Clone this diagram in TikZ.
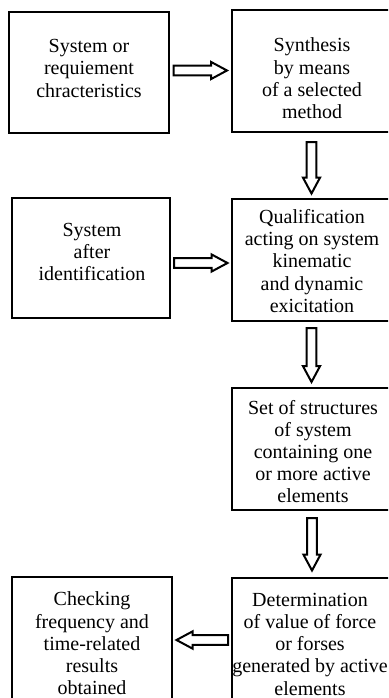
\documentclass[tikz,border=0pt]{standalone}
\usepackage{fontspec}
\setmainfont{Liberation Serif}
\usetikzlibrary{calc}
\tikzset{
  box/.style={draw, line width=1.8pt, inner sep=0pt, outer sep=0pt},
  txt/.style={align=center, inner sep=0pt, outer sep=0pt, anchor=north,
    font=\fontsize{20}{22.2}\selectfont},
  blockarr/.style={draw, line width=2pt, line join=miter, miter limit=4,
    to path={
      ($(\tikztostart)!4.8pt!90:(\tikztotarget)$)
      -- ($(\tikztotarget)!16pt!(\tikztostart)!4.8pt!90:(\tikztotarget)$)
      -- ($(\tikztotarget)!16pt!(\tikztostart)!8.6pt!90:(\tikztotarget)$)
      -- (\tikztotarget)
      -- ($(\tikztotarget)!16pt!(\tikztostart)!8.6pt!-90:(\tikztotarget)$)
      -- ($(\tikztotarget)!16pt!(\tikztostart)!4.8pt!-90:(\tikztotarget)$)
      -- ($(\tikztostart)!4.8pt!-90:(\tikztotarget)$)
      -- cycle}}
}
\begin{document}
\begin{tikzpicture}[x=1pt, y=-1pt]
\useasboundingbox (0,0) rectangle (388,698);
\clip (0,0) rectangle (388,698);
% boxes
\node[box, minimum width=160pt, minimum height=121pt] (A) at (89,72.5) {};
\node[box, minimum width=162pt, minimum height=122pt] (B) at (313,71) {};
\node[box, minimum width=158pt, minimum height=120pt] (C) at (91,258) {};
\node[box, minimum width=162pt, minimum height=122pt] (D) at (313,260) {};
\node[box, minimum width=162pt, minimum height=122pt] (E) at (313,449) {};
\node[box, minimum width=162pt, minimum height=132pt] (F) at (313,644) {};
\node[box, minimum width=160pt, minimum height=133pt] (G) at (92,643.5) {};
% texts
\node[txt] (tA) at (89,39.5) {System or\\requiement\\chracteristics};
\node[txt] (tB) at (312,38) {Synthesis\\by means\\of a selected\\method};
\node[txt] (tC) at (92,223) {System\\after\\identification};
\node[txt] (tD) at (312,209.5) {Qualification\\acting on system\\kinematic\\and dynamic\\exicitation};
\node[txt] (tE) at (313,400) {Set of structures\\of system\\containing one\\or more active\\elements};
\node[txt] (tF) at (310,593) {Determination\\of value of force\\or forses\\generated by active\\elements};
\node[txt] (tG) at (92,592) {Checking\\frequency and\\time-related\\results\\obtained};
% arrow end points
\coordinate (ab1) at ($(A.east)+(4.5,-2)$);
\coordinate (ab2) at ($(A.east -| B.west)+(-5,-2)$);
\coordinate (bd1) at ($(B.south)+(-1.5,10)$);
\coordinate (bd2) at ($(B.south |- D.north)+(-1.5,-5.5)$);
\coordinate (cd1) at ($(C.east)+(4,5)$);
\coordinate (cd2) at ($(C.east -| D.west)+(-4.5,5)$);
\coordinate (de1) at ($(D.south)+(-1.5,7)$);
\coordinate (de2) at ($(D.south |- E.north)+(-1.5,-6)$);
\coordinate (ef1) at ($(E.south)+(-1,8)$);
\coordinate (ef2) at ($(E.south |- F.north)+(-1,-7.5)$);
\coordinate (fg1) at ($(F.west)+(-4,-4)$);
\coordinate (fg2) at ($(F.west -| G.east)+(4.5,-4)$);
% connectors
\draw[blockarr] (ab1) to (ab2);
\draw[blockarr] (bd1) to (bd2);
\draw[blockarr] (cd1) to (cd2);
\draw[blockarr] (de1) to (de2);
\draw[blockarr] (ef1) to (ef2);
\draw[blockarr] (fg1) to (fg2);
\end{tikzpicture}
\end{document}
